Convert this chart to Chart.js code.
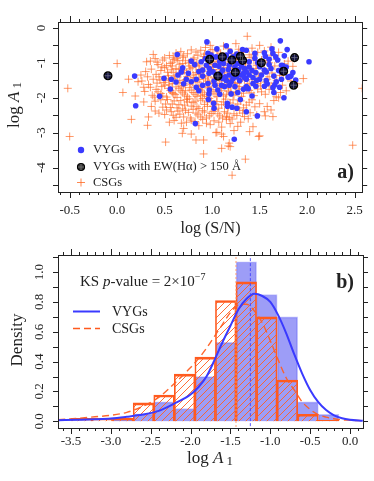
<!DOCTYPE html>
<html>
<head>
<meta charset="utf-8">
<script src="https://cdn.jsdelivr.net/npm/chart.js@4/dist/chart.umd.min.js"></script>
<style>
  html, body { margin: 0; padding: 0; background: #fff; }
  #wrap { position: relative; width: 374px; height: 481px; }
  #scatterChart { position: absolute; left: 0; top: 0; }
  #histChart { position: absolute; left: 0; top: 240px; }
</style>
</head>
<body>
<div id="wrap">
  <canvas id="scatterChart" width="374" height="240"></canvas>
  <canvas id="histChart" width="374" height="241"></canvas>
</div>
<script>
// ---- panel a) : log(S/N) vs log A1 ----
const vygPoints = [
  [0.184,-1.38],[0.195,-2.23],[0.447,-1.96],[0.493,-1.44],[0.56,-1.75],[0.57,-1.47],[0.633,-0.76],[0.823,-2.74],
  [0.945,-0.40],[1.016,-2.16],[1.02,-2.30],[1.16,-2.16],[1.233,-3.19],[1.26,-2.30],[1.297,-2.05],[1.36,-2.40],
  [1.476,-2.52],[1.718,-0.37],[1.79,-0.62],[2.02,-0.97],[1.756,-2.0],[1.80,-1.41],[1.149,-0.51],[0.956,-0.73],
  [0.816,-1.05],[0.78,-0.95],[0.69,-1.14],[0.676,-1.26],[0.64,-1.35],[0.728,-1.47],[0.833,-1.47],[0.90,-1.38],
  [0.833,-1.70],[0.86,-1.80],[0.97,-1.78],[0.967,-1.89],[1.06,-1.78],[1.13,-1.68],[1.20,-1.89],[1.21,-2.27],
  [1.16,-2.24],[1.33,-1.76],[1.38,-1.74],[1.46,-1.67],[1.55,-1.67],[1.64,-1.71],[1.57,-1.51],[1.5,-1.47],
  [1.675,-1.54],[1.73,-1.47],[1.815,-1.40],[1.62,-1.16],[1.57,-1.26],[1.46,-1.28],[1.39,-1.35],[1.36,-1.47],
  [1.29,-1.51],[1.22,-1.45],[1.15,-1.51],[1.11,-1.45],[1.04,-1.35],[1.01,-1.26],[0.97,-1.16],[0.94,-1.07],
  [1.03,-1.07],[1.08,-0.97],[1.13,-0.87],[1.18,-1.07],[1.24,-1.11],[1.27,-1.02],[1.31,-1.09],[1.34,-1.16],
  [1.36,-1.26],[1.39,-0.97],[1.45,-0.87],[1.45,-0.73],[1.55,-0.71],[1.56,-0.81],[1.64,-0.73],[1.67,-0.83],
  [1.69,-0.92],[1.73,-1.07],[1.55,-1.21],[1.5,-1.11],[1.32,-0.62],[1.36,-0.64],[1.26,-0.75],[1.22,-0.83],
  [1.15,-0.78],[1.04,-0.83],[0.99,-0.78],[0.885,-0.97],[0.90,-1.21],[0.967,-1.30],[1.11,-1.21],[1.18,-1.35],
  [1.25,-1.26],[1.31,-1.35],[1.34,-1.42],[1.43,-1.42],[1.43,-1.59],[1.36,-1.68],[1.24,-1.68],[1.18,-1.64],
  [1.10,-1.64],[1.03,-1.64],[0.956,-1.59],[0.90,-1.64],[0.78,-1.54],[1.745,-1.08],[1.83,-1.38],[1.73,-1.27],
  [1.07,-1.10],[1.12,-1.02],[1.17,-1.19],[1.21,-0.96],[1.28,-1.20],[1.33,-1.30],[1.39,-1.12],[1.42,-1.22],
  [1.48,-1.00],[1.52,-1.35],[1.60,-1.05],[1.65,-1.38],[1.70,-1.22],[1.78,-1.12],[1.76,-0.80],[1.60,-0.90],
  [1.09,-1.30],[1.14,-1.40],[1.26,-1.40],[1.30,-0.85],[0.86,-1.25],[0.75,-1.30],[0.70,-1.60],[0.62,-1.55],
  [1.02,-1.52],[1.20,-1.55],[1.47,-1.50],[1.58,-1.60],[1.66,-1.63],[1.85,-1.28],[1.88,-1.49],[0.93,-0.88],
  [1.05,-0.60],[1.19,-0.67],[1.63,-0.60],[1.71,-1.70],[1.65,-1.85],[1.08,-1.90],[1.27,-1.85],[0.96,-2.05],
  [1.42,-1.95]
];

// VYGs with EW(Halpha) > 150 A
const ewPoints = [
  [-0.097,-1.37],[0.974,-0.90],[1.107,-0.83],[1.061,-1.38],[1.208,-0.92],[1.297,-0.81],
  [1.321,-0.93],[1.244,-1.27],[1.518,-1.00],[1.753,-1.24],[1.868,-0.85],[1.858,-1.64]
];

const csgPoints = [
  [0.62,-0.72],[0.78,-0.63],[0.85,-0.78],[0.93,-0.56],[1.05,-0.66],[1.12,-0.52],[1.20,-0.74],[1.28,-0.61],
  [1.37,-0.24],[1.42,-0.58],[0.70,-0.80],[0.98,-0.71],[1.55,-0.66],[1.62,-0.78],[0.55,-0.79],[1.33,-0.70],
  [0.40,-0.88],[0.88,-0.64],
  [0.35,-0.95],[0.43,-1.05],[0.48,-0.92],[0.52,-1.08],[0.58,-0.98],[0.63,-0.87],[0.66,-1.04],[0.72,-0.94],
  [0.76,-1.09],[0.81,-0.86],[0.84,-1.01],[0.90,-0.93],[0.95,-1.06],[0.99,-0.85],[1.03,-0.97],[1.09,-1.08],
  [1.14,-0.90],[1.19,-1.02],[1.25,-0.88],[1.29,-1.05],[1.35,-0.96],[1.41,-0.84],[1.47,-1.07],[1.52,-0.92],
  [1.60,-1.00],[1.68,-0.90],[1.76,-1.03],[0.31,-0.97],[0.60,-0.90],[1.06,-0.82],
  [0.30,-1.25],[0.36,-1.18],[0.41,-1.33],[0.46,-1.22],[0.50,-1.14],[0.54,-1.37],[0.59,-1.27],[0.62,-1.16],
  [0.67,-1.32],[0.71,-1.21],[0.74,-1.39],[0.79,-1.13],[0.83,-1.28],[0.87,-1.19],[0.91,-1.36],[0.96,-1.24],
  [1.00,-1.12],[1.04,-1.31],[1.08,-1.20],[1.13,-1.38],[1.17,-1.15],[1.22,-1.27],[1.27,-1.35],[1.32,-1.18],
  [1.37,-1.30],[1.43,-1.22],[1.49,-1.38],[1.55,-1.17],[1.63,-1.29],[1.71,-1.36],[0.44,-1.40],[0.86,-1.33],
  [1.11,-1.26],[0.57,-1.20],
  [0.26,-1.52],[0.33,-1.62],[0.38,-1.47],[0.42,-1.58],[0.47,-1.68],[0.51,-1.50],[0.55,-1.63],[0.60,-1.44],
  [0.64,-1.57],[0.68,-1.69],[0.72,-1.48],[0.77,-1.61],[0.81,-1.42],[0.85,-1.55],[0.89,-1.67],[0.93,-1.46],
  [0.97,-1.59],[1.02,-1.43],[1.06,-1.66],[1.10,-1.52],[1.15,-1.62],[1.19,-1.45],[1.24,-1.57],[1.29,-1.68],
  [1.34,-1.49],[1.39,-1.60],[1.45,-1.53],[1.51,-1.66],[1.58,-1.47],[1.66,-1.58],[1.74,-1.64],[1.83,-1.52],
  [0.70,-1.58],[0.95,-1.52],[1.21,-1.55],[0.49,-1.56],
  [0.29,-1.82],[0.37,-1.93],[0.41,-1.76],[0.46,-1.88],[0.52,-1.98],[0.56,-1.79],[0.61,-1.91],[0.65,-1.74],
  [0.69,-1.86],[0.74,-1.97],[0.78,-1.78],[0.82,-1.90],[0.86,-1.72],[0.90,-1.84],[0.94,-1.96],[0.99,-1.77],
  [1.03,-1.89],[1.08,-1.73],[1.12,-1.95],[1.17,-1.81],[1.23,-1.92],[1.28,-1.75],[1.33,-1.87],[1.39,-1.79],
  [1.44,-1.94],[1.52,-1.83],[1.60,-1.76],[1.675,-1.97],[1.72,-1.85],[0.06,-1.85],[0.58,-1.85],[0.88,-1.93],
  [1.20,-1.86],[0.72,-1.80],
  [0.40,-2.10],[0.48,-2.27],[0.53,-2.05],[0.58,-2.18],[0.63,-2.29],[0.67,-2.08],[0.71,-2.21],[0.76,-2.03],
  [0.80,-2.14],[0.84,-2.26],[0.88,-2.07],[0.92,-2.19],[0.97,-2.02],[1.01,-2.24],[1.05,-2.11],[1.10,-2.20],
  [1.14,-2.04],[1.19,-2.15],[1.25,-2.27],[1.30,-2.09],[1.36,-2.21],[1.42,-2.06],[1.50,-2.17],[1.58,-2.25],
  [1.65,-2.08],[0.28,-2.12],[0.95,-2.12],[0.74,-2.12],
  [0.44,-2.44],[0.52,-2.35],[0.59,-2.50],[0.64,-2.38],[0.70,-2.55],[0.75,-2.42],[0.80,-2.33],[0.85,-2.49],
  [0.90,-2.37],[0.94,-2.58],[0.99,-2.45],[1.03,-2.34],[1.08,-2.52],[1.13,-2.40],[1.18,-2.57],[1.23,-2.46],
  [1.29,-2.36],[1.34,-2.54],[1.40,-2.43],[1.47,-2.50],[1.56,-2.52],[1.64,-2.54],[0.62,-2.56],[1.15,-2.54],
  [0.15,-2.62],[0.32,-2.79],[0.55,-2.70],[0.676,-2.73],[0.78,-2.64],[0.86,-2.80],[0.94,-2.73],[1.02,-2.66],
  [1.10,-2.84],[1.15,-2.62],[1.23,-2.94],[1.30,-2.70],[1.43,-2.83],[1.395,-2.97],[0.70,-2.88],[1.05,-2.99],
  [0.686,-3.02],[0.51,-3.27],[0.78,-3.04],[0.83,-3.21],[0.91,-3.21],[1.04,-3.00],[1.10,-3.04],[1.12,-3.11],
  [1.18,-3.30],[1.17,-3.38],[1.10,-3.45],[1.19,-3.40],[1.49,-3.11],[1.50,-3.09],[0.91,-3.61],[1.35,-3.76],
  [1.21,-4.22],[-0.5,-3.11],[2.48,-3.36],
  [-0.52,-1.73],[0.0,-1.02],[0.38,-0.76],[0.28,-1.70],[0.22,-1.54],[2.58,-1.73],[1.96,-1.45],
  // dense core, second pass
  [0.47,-1.12],[0.53,-1.27],[0.58,-1.09],[0.61,-1.38],[0.65,-1.19],[0.69,-1.02],[0.73,-1.28],[0.77,-1.17],
  [0.80,-1.35],[0.83,-1.06],[0.88,-1.29],[0.92,-1.14],[0.96,-1.40],[1.01,-1.19],[1.05,-1.03],[1.09,-1.36],
  [1.12,-1.13],[1.16,-1.29],[1.21,-1.09],[1.26,-1.22],[1.30,-1.38],[1.35,-1.11],[1.40,-1.27],[1.46,-1.16],
  [1.53,-1.29],
  [0.45,-1.49],[0.50,-1.64],[0.54,-1.46],[0.58,-1.59],[0.62,-1.69],[0.66,-1.51],[0.70,-1.65],[0.74,-1.44],
  [0.79,-1.54],[0.83,-1.66],[0.87,-1.48],[0.91,-1.61],[0.95,-1.69],[1.00,-1.55],[1.04,-1.47],[1.08,-1.60],
  [1.13,-1.50],[1.17,-1.68],[1.22,-1.48],[1.27,-1.59],[1.32,-1.43],[1.37,-1.66],[1.42,-1.48],[1.48,-1.60],
  [1.55,-1.55],[1.62,-1.66],
  [0.43,-1.83],[0.48,-1.95],[0.54,-1.73],[0.59,-1.88],[0.63,-1.99],[0.67,-1.80],[0.71,-1.92],[0.76,-1.71],
  [0.80,-1.85],[0.84,-1.96],[0.88,-1.78],[0.92,-1.90],[0.96,-1.72],[1.01,-1.83],[1.05,-1.97],[1.10,-1.80],
  [1.15,-1.90],[1.19,-1.72],[1.25,-1.84],[1.31,-1.96],[1.36,-1.74],[1.41,-1.86],[1.48,-1.75],[1.56,-1.90],
  [0.46,-2.06],[0.51,-2.18],[0.56,-2.28],[0.60,-2.09],[0.65,-2.20],[0.69,-2.32],[0.73,-2.05],[0.78,-2.24],
  [0.82,-2.10],[0.86,-2.31],[0.90,-2.02],[0.95,-2.25],[0.99,-2.09],[1.03,-2.18],[1.07,-2.30],[1.12,-2.12],
  [1.17,-2.26],[1.22,-2.06],[1.27,-2.18],[1.33,-2.29],[1.39,-2.13],[1.45,-2.26],
  [0.50,-2.48],[0.57,-2.40],[0.66,-2.47],[0.72,-2.36],[0.77,-2.58],[0.83,-2.44],[0.88,-2.55],[0.92,-2.41],
  [0.97,-2.52],[1.01,-2.39],[1.06,-2.46],[1.11,-2.58],[1.16,-2.44],[1.21,-2.61],[1.26,-2.51],[1.32,-2.44],
  [1.38,-2.60],
  [0.60,-2.65],[0.73,-2.70],[0.82,-2.68],[0.90,-2.62],[0.98,-2.77],[1.07,-2.70],[1.19,-2.74],[1.27,-2.82],
  [0.42,-0.98],[0.50,-0.86],[0.56,-1.02],[0.64,-0.93],[0.69,-0.84],[0.75,-1.00],[0.80,-0.91],[0.86,-1.09],
  [0.91,-0.82],[0.97,-0.96],[1.01,-1.05],[1.07,-0.89],[1.11,-0.97],[1.16,-1.07],[1.22,-0.91],[1.27,-0.99],
  [1.33,-0.85],[1.38,-1.03],[1.44,-0.93],[1.50,-1.02],[1.58,-0.94],[1.66,-1.09],[1.72,-1.16],
  [0.67,-0.68],[0.74,-0.74],[0.83,-0.69],[0.92,-0.75],[1.00,-0.62],[1.09,-0.72],[1.17,-0.60],[1.24,-0.79],
  [1.31,-0.66],[1.39,-0.77],[1.48,-0.70],[0.59,-0.84],
  [0.32,-1.40],[0.35,-1.70],[0.39,-1.98],[0.36,-2.25],[0.25,-1.35],[0.19,-1.95],[0.12,-1.47],[0.40,-2.38],
  [0.33,-2.55],
  [1.60,-1.40],[1.68,-1.50],[1.75,-1.30],[1.70,-2.00],[1.62,-2.35],[1.55,-2.40],[1.78,-1.80],[1.90,-1.60],
  [1.85,-1.10],[1.80,-0.95],[1.70,-0.70],[1.62,-0.55],[1.50,-0.50],[1.25,-0.45],[0.98,-0.50]
];

// ---- panel b) : distribution of log A1 ----
const binCenters = [-3.623,-3.365,-3.107,-2.849,-2.591,-2.333,-2.075,-1.817,-1.559,-1.301,-1.043,-0.785,-0.527,-0.269,-0.011];
const vygDensity = [null, null, null, 0.015, 0.05, 0.13, 0.086, 0.30, 0.53, 1.07, 0.85, 0.70, 0.13, 0.047, null];
const csgDensity = [null, 0.02, 0.02, 0.02, 0.124, 0.176, 0.316, 0.43, 0.81, 0.935, 0.70, 0.277, 0.047, 0.007, null];

const curveX   = [-3.66,-3.4,-3.2,-3.0,-2.8,-2.6,-2.4,-2.2,-2.0,-1.9,-1.8,-1.7,-1.6,-1.5,-1.4,-1.3,-1.2,-1.1,-1.0,-0.9,-0.8,-0.7,-0.6,-0.5,-0.4,-0.3,-0.2,-0.1,0.0,0.16];
const vygCurve = [0.007,0.01,0.013,0.018,0.03,0.045,0.07,0.12,0.18,0.23,0.30,0.41,0.53,0.64,0.75,0.82,0.855,0.84,0.80,0.71,0.59,0.45,0.32,0.21,0.13,0.075,0.04,0.02,0.01,0.003];
const csgCurve = [0.01,0.02,0.03,0.04,0.06,0.10,0.16,0.255,0.36,0.42,0.49,0.57,0.65,0.73,0.78,0.785,0.74,0.66,0.54,0.41,0.29,0.21,0.13,0.08,0.045,0.028,0.017,0.01,0.007,0.004];

const vygMedian = -1.25;
const csgMedian = -1.43;

const topYLabels = [0, -1, -2, -3, -4];
const botYLabels = [0, 0.2, 0.4, 0.6, 0.8, 1.0];

const SERIF = "'Liberation Serif', 'Times New Roman', serif";
const BLUE = '#3a3aff';
const ORANGE = '#ff5a1e';

function xy(arr) { return arr.map(p => ({ x: p[0], y: p[1] })); }

// write text made of several pieces (font changes / sub- and superscripts)
function runs(ctx, x, y, parts, align) {
  let w = 0;
  parts.forEach(p => { ctx.font = p[1]; w += ctx.measureText(p[0]).width; });
  let cx = align === 'center' ? x - w / 2 : (align === 'right' ? x - w : x);
  ctx.textAlign = 'left';
  parts.forEach(p => {
    ctx.font = p[1];
    ctx.fillText(p[0], cx, y + (p[2] || 0));
    cx += ctx.measureText(p[0]).width;
  });
}

// box + tick marks on all four sides
function frame(chart, xFrom, xTo, yFrom, yTo, yStep) {
  const ctx = chart.ctx;
  const a = chart.chartArea;
  const sx = chart.scales.x, sy = chart.scales.y;
  ctx.save();
  ctx.strokeStyle = '#222';
  ctx.lineWidth = 1;
  ctx.strokeRect(Math.round(a.left) + 0.5, Math.round(a.top) + 0.5, Math.round(a.right - a.left), Math.round(a.bottom - a.top));
  ctx.beginPath();
  for (let i = xFrom; i <= xTo; i++) {
    const px = Math.round(sx.getPixelForValue(i / 10)) + 0.5;
    const len = (i % 5 === 0) ? 6 : 3;
    ctx.moveTo(px, a.bottom); ctx.lineTo(px, a.bottom + len);
    ctx.moveTo(px, a.top); ctx.lineTo(px, a.top - len);
  }
  for (let j = yFrom; j <= yTo; j++) {
    const py = Math.round(sy.getPixelForValue(j * yStep)) + 0.5;
    ctx.moveTo(a.left, py); ctx.lineTo(a.left - 5, py);
    ctx.moveTo(a.right, py); ctx.lineTo(a.right + 5, py);
  }
  ctx.stroke();
  ctx.restore();
}

function rotatedText(ctx, x, y, parts) {
  ctx.save();
  ctx.translate(x, y);
  ctx.rotate(-Math.PI / 2);
  ctx.textBaseline = 'middle';
  runs(ctx, 0, 0, parts, 'center');
  ctx.restore();
}

const topDeco = {
  id: 'topDeco',
  afterDraw(chart) {
    const ctx = chart.ctx;
    const sy = chart.scales.y;
    frame(chart, -6, 25, -9, 0, 0.5);
    ctx.save();
    ctx.fillStyle = '#222';
    topYLabels.forEach(v => rotatedText(ctx, 42, sy.getPixelForValue(v), [[String(v), '13px ' + SERIF]]));
    rotatedText(ctx, 15, 105, [['log ', '17px ' + SERIF], ['A', 'italic 17px ' + SERIF], [' 1', '13px ' + SERIF, 3]]);
    ctx.textBaseline = 'middle';
    runs(ctx, 210.5, 229, [['log (S/N)', '16px ' + SERIF]], 'center');
    // legend
    ctx.fillStyle = BLUE;
    ctx.beginPath(); ctx.arc(81, 150, 3.2, 0, Math.PI * 2); ctx.fill();
    ctx.fillStyle = 'rgba(0,0,0,0.8)';
    ctx.beginPath(); ctx.arc(81, 167, 3.5, 0, Math.PI * 2); ctx.fill();
    ctx.strokeStyle = '#000'; ctx.lineWidth = 1.2;
    ctx.beginPath(); ctx.arc(81, 167, 3.5, 0, Math.PI * 2); ctx.stroke();
    ctx.strokeStyle = '#777'; ctx.lineWidth = 0.8;
    ctx.beginPath(); ctx.moveTo(78, 167); ctx.lineTo(84, 167); ctx.moveTo(81, 164); ctx.lineTo(81, 170); ctx.stroke();
    ctx.strokeStyle = 'rgba(255,105,35,0.8)'; ctx.lineWidth = 1;
    ctx.beginPath(); ctx.moveTo(77, 182.5); ctx.lineTo(85, 182.5); ctx.moveTo(81, 178.5); ctx.lineTo(81, 186.5); ctx.stroke();
    ctx.fillStyle = '#222';
    runs(ctx, 93, 150, [['VYGs', '12.5px ' + SERIF]]);
    runs(ctx, 93, 167, [['VYGs with EW(H\u03b1) > 150 \u00c5', '12.5px ' + SERIF]]);
    runs(ctx, 93, 183, [['CSGs', '12.5px ' + SERIF]]);
    runs(ctx, 354, 173, [['a)', 'bold 20px ' + SERIF]], 'right');
    ctx.restore();
  }
};

new Chart(document.getElementById('scatterChart'), {
  type: 'scatter',
  data: {
    datasets: [
      { label: 'CSGs', data: xy(csgPoints), pointStyle: 'cross', pointRadius: 4,
        borderColor: 'rgba(255,105,35,0.68)', borderWidth: 1, order: 4 },
      { label: 'VYGs', data: xy(vygPoints), pointStyle: 'circle', pointRadius: 2.8,
        backgroundColor: BLUE, borderWidth: 0, order: 3 },
      { label: 'VYGs EW', data: xy(ewPoints), pointStyle: 'circle', pointRadius: 2.8,
        backgroundColor: BLUE, borderWidth: 0, order: 2 },
      { label: 'VYGs EW ring', data: xy(ewPoints), pointStyle: 'circle', pointRadius: 3.8,
        backgroundColor: 'rgba(0,0,0,0.75)', borderColor: '#000', borderWidth: 1.5, order: 1 },
      { label: 'VYGs EW cross', data: xy(ewPoints), pointStyle: 'cross', pointRadius: 3.4,
        borderColor: 'rgba(120,120,140,0.9)', borderWidth: 0.8, order: 0 }
    ]
  },
  options: {
    responsive: false,
    animation: false,
    events: [],
    layout: { padding: { top: 22, right: 11, left: 0, bottom: 0 } },
    plugins: { legend: { display: false }, tooltip: { enabled: false } },
    scales: {
      x: {
        type: 'linear', min: -0.623, max: 2.58,
        grid: { display: false, drawTicks: false }, border: { display: false },
        ticks: { stepSize: 0.5, includeBounds: false, autoSkip: false, maxRotation: 0, padding: 11,
                 color: '#222', font: { family: SERIF, size: 13 }, callback: v => v.toFixed(1) },
        afterFit: s => { s.height = 48; }
      },
      y: {
        type: 'linear', min: -4.70, max: 0.17,
        grid: { display: false, drawTicks: false }, border: { display: false },
        ticks: { display: false },
        afterFit: s => { s.width = 58; }
      }
    }
  },
  plugins: [topDeco]
});

// ---- panel b) ----
const histCanvas = document.getElementById('histChart');

function makeHatch(ctx, color) {
  const s = 7;
  const c = document.createElement('canvas');
  c.width = s; c.height = s;
  const g = c.getContext('2d');
  g.strokeStyle = color;
  g.lineWidth = 1;
  g.beginPath();
  g.moveTo(0, s); g.lineTo(s, 0);
  g.moveTo(-1, 1); g.lineTo(1, -1);
  g.moveTo(s - 1, s + 1); g.lineTo(s + 1, s - 1);
  g.stroke();
  return ctx.createPattern(c, 'repeat');
}
const hatch = makeHatch(histCanvas.getContext('2d'), 'rgba(255,95,35,0.9)');

const botDeco = {
  id: 'botDeco',
  afterDraw(chart) {
    const ctx = chart.ctx;
    const sy = chart.scales.y;
    frame(chart, -36, 1, 0, 11, 0.1);
    ctx.save();
    ctx.fillStyle = '#222';
    botYLabels.forEach(v => rotatedText(ctx, 40, sy.getPixelForValue(v), [[v.toFixed(1), '13px ' + SERIF]]));
    rotatedText(ctx, 18, 100, [['Density', '17px ' + SERIF]]);
    ctx.textBaseline = 'middle';
    runs(ctx, 210, 219, [['log ', '17px ' + SERIF], ['A', 'italic 17px ' + SERIF], [' 1', '13px ' + SERIF, 3]], 'center');
    runs(ctx, 80, 42, [['KS ', '15px ' + SERIF], ['p', 'italic 15px ' + SERIF], ['-value = 2\u00d710', '15px ' + SERIF], ['\u22127', '10px ' + SERIF, -5]]);
    runs(ctx, 354, 43, [['b)', 'bold 20px ' + SERIF]], 'right');
    // legend
    ctx.strokeStyle = BLUE; ctx.lineWidth = 2;
    ctx.beginPath(); ctx.moveTo(73, 71.5); ctx.lineTo(100, 71.5); ctx.stroke();
    ctx.strokeStyle = ORANGE; ctx.lineWidth = 1.4; ctx.setLineDash([7, 4]);
    ctx.beginPath(); ctx.moveTo(73, 88.5); ctx.lineTo(100, 88.5); ctx.stroke();
    ctx.setLineDash([]);
    runs(ctx, 112, 72, [['VYGs', '14px ' + SERIF]]);
    runs(ctx, 112, 89, [['CSGs', '14px ' + SERIF]]);
    ctx.restore();
  }
};

new Chart(histCanvas, {
  type: 'bar',
  data: {
    datasets: [
      { type: 'line', label: 'VYGs fit', data: curveX.map((x, i) => ({ x: x, y: vygCurve[i] })),
        borderColor: BLUE, borderWidth: 2, pointRadius: 0, cubicInterpolationMode: 'monotone', fill: false, order: 0 },
      { type: 'line', label: 'CSGs fit', data: curveX.map((x, i) => ({ x: x, y: csgCurve[i] })),
        borderColor: 'rgba(255,95,35,0.95)', borderWidth: 1.4, borderDash: [7, 4], pointRadius: 0,
        cubicInterpolationMode: 'monotone', fill: false, order: 1 },
      { type: 'line', label: 'VYGs median', data: [{ x: vygMedian, y: -0.2 }, { x: vygMedian, y: 1.2 }],
        borderColor: 'rgba(60,60,255,0.85)', borderWidth: 1, borderDash: [3, 2], pointRadius: 0, order: 2 },
      { type: 'line', label: 'CSGs median', data: [{ x: csgMedian, y: -0.2 }, { x: csgMedian, y: 1.2 }],
        borderColor: 'rgba(255,150,100,0.6)', borderWidth: 1.5, borderDash: [2, 2], pointRadius: 0, order: 2 },
      { type: 'bar', label: 'CSGs', data: binCenters.map((x, i) => ({ x: x, y: csgDensity[i] })),
        backgroundColor: hatch, borderColor: ORANGE, borderWidth: { top: 2, left: 1, right: 1, bottom: 0 },
        barPercentage: 1, categoryPercentage: 1, grouped: false, order: 3 },
      { type: 'bar', label: 'VYGs', data: binCenters.map((x, i) => ({ x: x, y: vygDensity[i] })),
        backgroundColor: 'rgba(60,60,240,0.5)', borderColor: 'rgba(90,90,245,0.35)', borderWidth: 1,
        barPercentage: 1, categoryPercentage: 1, grouped: false, order: 4 }
    ]
  },
  options: {
    responsive: false,
    animation: false,
    events: [],
    layout: { padding: { top: 15, right: 11, left: 0, bottom: 0 } },
    plugins: { legend: { display: false }, tooltip: { enabled: false } },
    scales: {
      x: {
        type: 'linear', min: -3.663, max: 0.163, offset: false,
        grid: { display: false, drawTicks: false }, border: { display: false },
        ticks: { stepSize: 0.5, includeBounds: false, autoSkip: false, maxRotation: 0, padding: 6,
                 color: '#222', font: { family: SERIF, size: 13 }, callback: v => v.toFixed(1) },
        afterFit: s => { s.height = 53; }
      },
      y: {
        type: 'linear', min: -0.045, max: 1.115,
        grid: { display: false, drawTicks: false }, border: { display: false },
        ticks: { display: false },
        afterFit: s => { s.width = 58; }
      }
    }
  },
  plugins: [botDeco]
});
</script>
</body>
</html>
